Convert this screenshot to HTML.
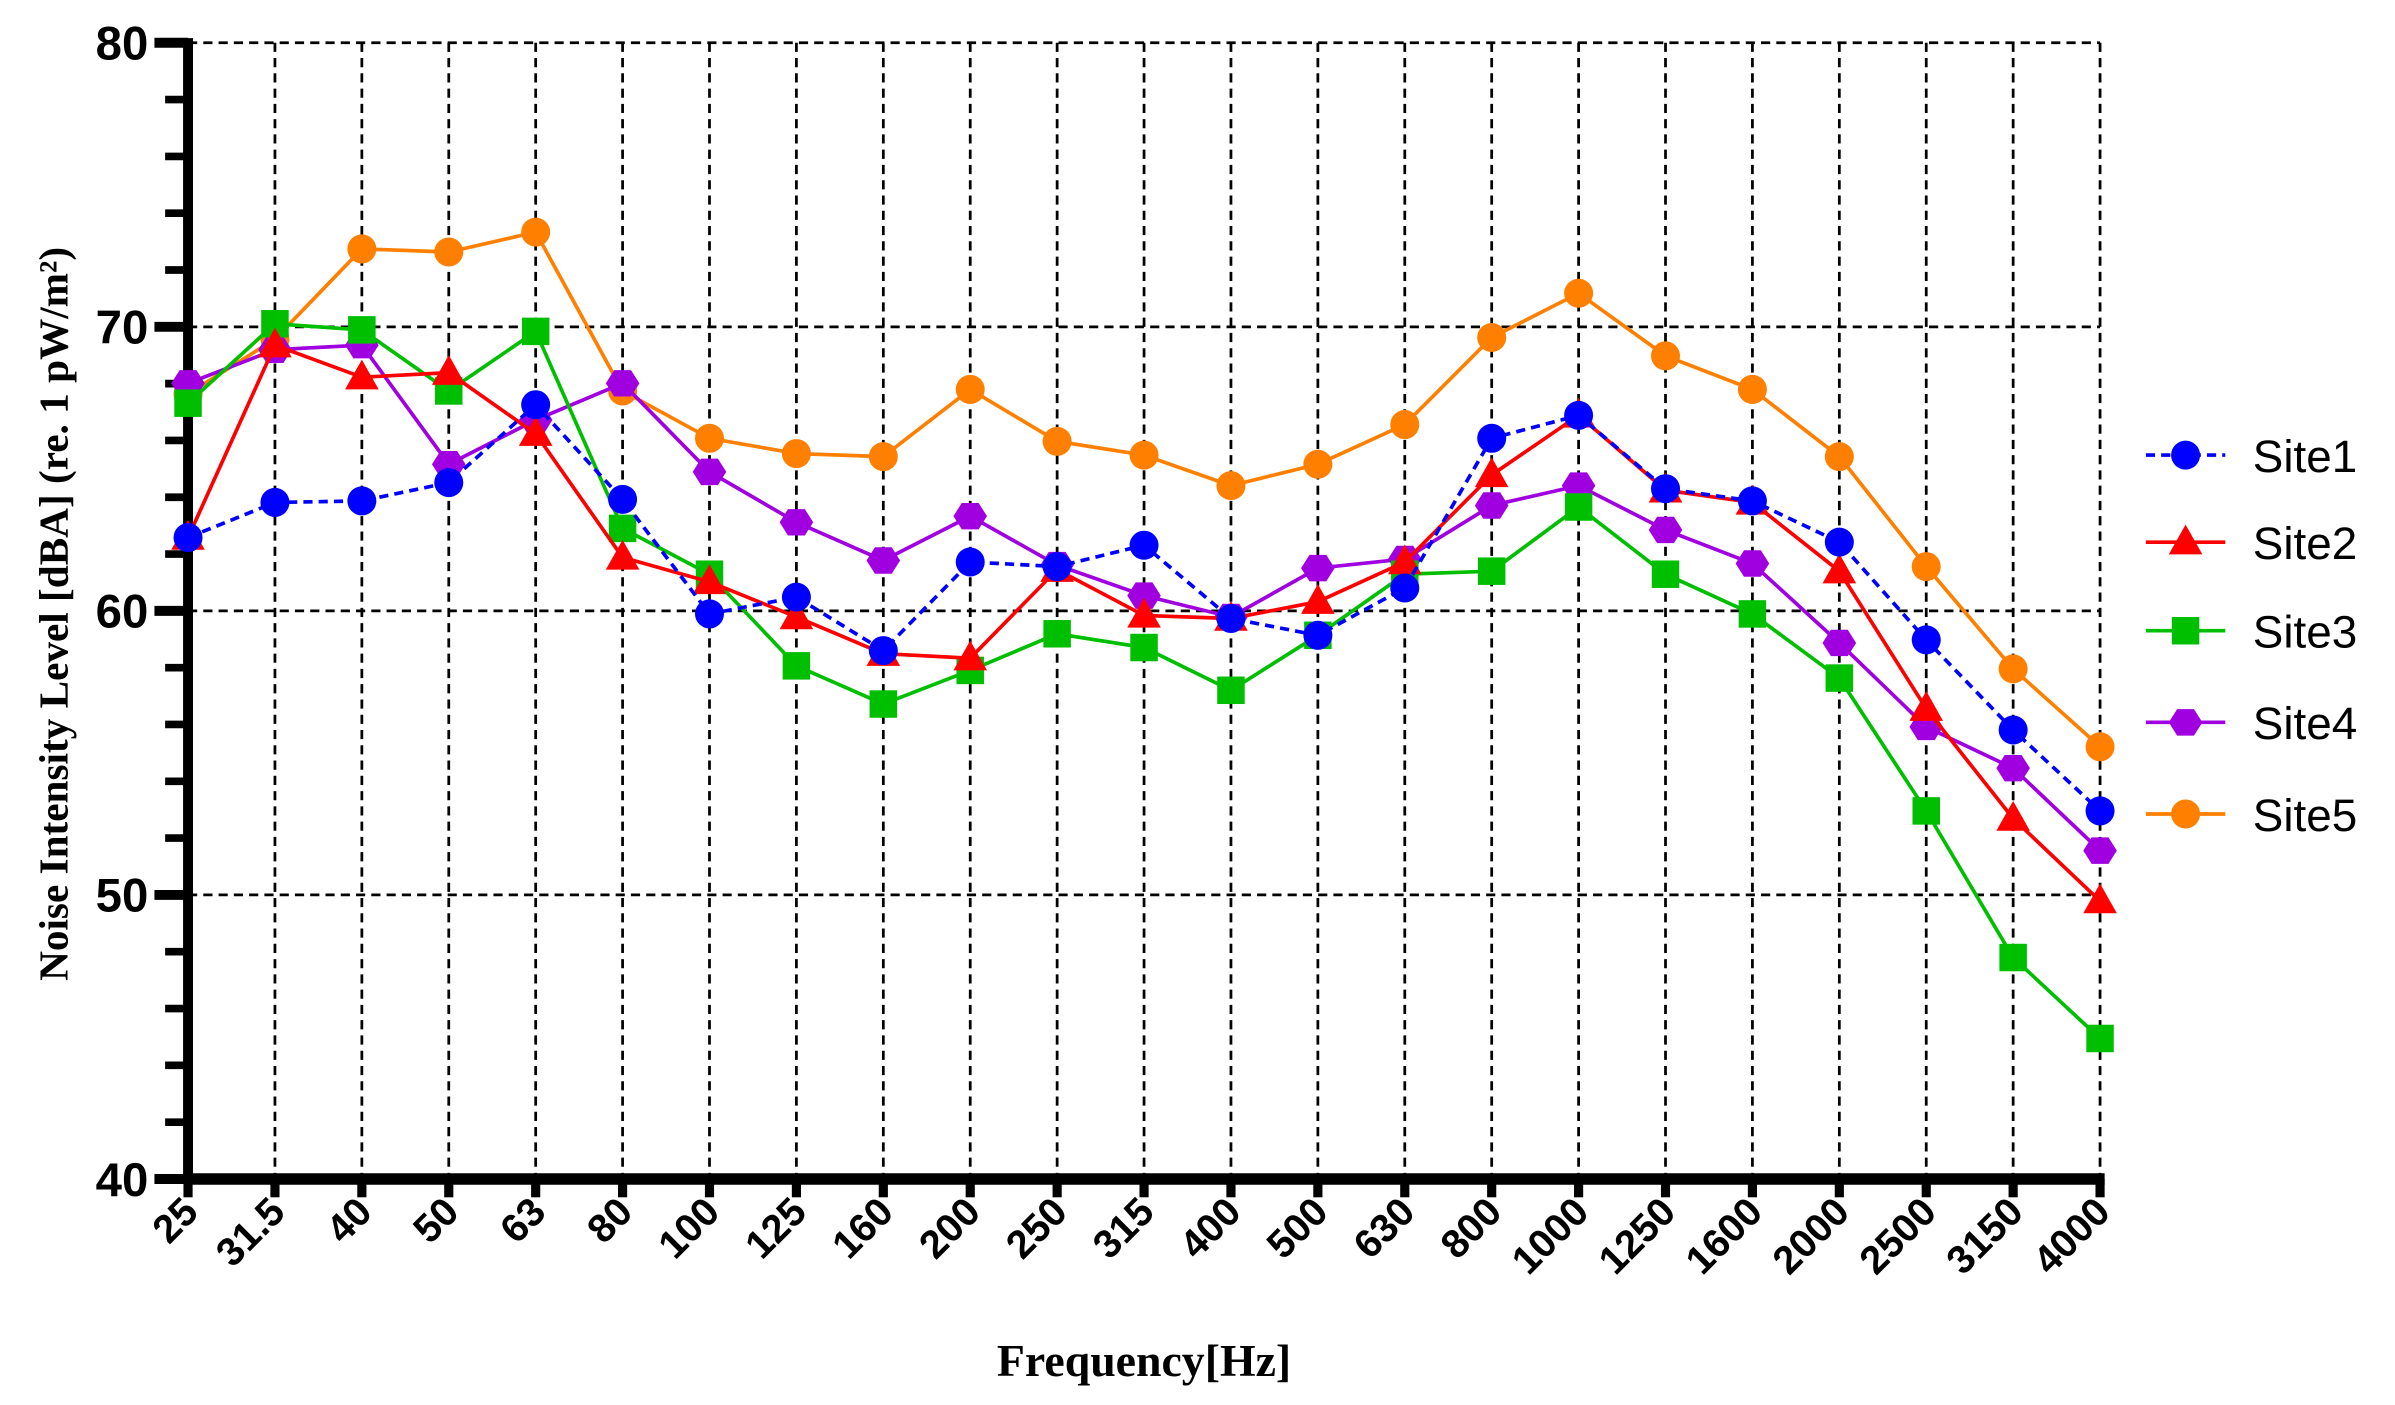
<!DOCTYPE html>
<html><head><meta charset="utf-8"><style>html,body{margin:0;padding:0;background:#fff}svg{display:block}</style></head>
<body>
<svg id="s" width="2395" height="1405" viewBox="0 0 1568 920" xmlns="http://www.w3.org/2000/svg">
<rect width="1568" height="920" fill="#fff"/>
<g id="grid" stroke="#000" stroke-width="1.8" stroke-dasharray="6,4" fill="none"></g>
<g id="axes"></g>
<g id="series"></g>
<g id="labels" font-family="Liberation Sans, Arial, sans-serif" font-weight="bold" fill="#000"></g>
<text x="44" y="402" transform="rotate(-90 44 402)" text-anchor="middle" font-family="Liberation Serif, serif" font-weight="bold" font-size="27">Noise Intensity Level  [dBA] (re. 1 pW/m²)</text>
<text x="749" y="901" text-anchor="middle" font-family="Liberation Serif, serif" font-weight="bold" font-size="30">Frequency[Hz]</text>
<g id="legend" font-family="Liberation Sans, Arial, sans-serif" font-size="30"></g>
</svg>
<script>
const NS="http://www.w3.org/2000/svg";
function el(p,t,a,txt){const e=document.createElementNS(NS,t);for(const k in a)e.setAttribute(k,a[k]);if(txt!==undefined)e.textContent=txt;p.appendChild(e);return e;}
const cats=["25","31.5","40","50","63","80","100","125","160","200","250","315","400","500","630","800","1000","1250","1600","2000","2500","3150","4000"];
const X0=123,X1=1375,Y0=28,Y1=772;
const dx=(X1-X0)/22;
const xi=i=>X0+i*dx;
const yv=v=>Y1-(v-40)*(Y1-Y0)/40;
const grid=document.getElementById('grid'),axes=document.getElementById('axes'),lab=document.getElementById('labels');
for(let i=1;i<=22;i++)el(grid,'line',{x1:xi(i),y1:Y0,x2:xi(i),y2:Y1});
for(const v of [50,60,70,80])el(grid,'line',{x1:X0,y1:yv(v),x2:X1,y2:yv(v)});
el(axes,'line',{x1:X0,y1:Y0-3,x2:X0,y2:Y1+3,stroke:'#000','stroke-width':6.5});
el(axes,'line',{x1:X0-3,y1:Y1,x2:X1+3,y2:Y1,stroke:'#000','stroke-width':7.5});
for(let v=40;v<=80;v+=2){const major=v%10==0;el(axes,'line',{x1:major?101:108,y1:yv(v),x2:X0,y2:yv(v),stroke:'#000','stroke-width':major?6.5:5});}
for(let i=0;i<=22;i++)el(axes,'line',{x1:xi(i),y1:Y1,x2:xi(i),y2:784,stroke:'#000','stroke-width':6});
for(const v of [40,50,60,70,80])el(lab,'text',{x:97,y:yv(v)+11,'text-anchor':'end','font-size':31},String(v));
cats.forEach((c,i)=>{const x=xi(i)+8,y=795;el(lab,'text',{x:x,y:y,'text-anchor':'end','font-size':26,transform:`rotate(-45 ${x} ${y})`},c);});
const D={
s1:[352,329,328,316,265,327,402,391,426,368,371,357,405,416,385,287,272,320,328,355,419,478,531],
s2:[352,226,247,244,284,365,381,404,428,431,373,403,405,394,368,311,272,321,329,374,464,536,590],
s3:[264,212,216,256,217,346,376,436,461,439,415,424,452,416,376,374,332,376,402,444,531,627,680],
s4:[251,229,226,304,275,251,309,342,367,338,370,390,404,372,366,331,318,347,369,421,476,503,557],
s5:[258,222,163,165,152,256,287,297,299,255,289,298,318,304,278,221,192,233,255,299,371,438,489]};
const S={s1:{c:'#0000ff',m:'circle',dash:'6,4',name:'Site1'},s2:{c:'#ff0000',m:'tri',name:'Site2'},s3:{c:'#00bf00',m:'sq',name:'Site3'},s4:{c:'#a000e0',m:'hex',name:'Site4'},s5:{c:'#ff8000',m:'circle',name:'Site5'}};
function marker(p,m,x,y,c){
 if(m=='circle')el(p,'circle',{cx:x,cy:y,r:9.5,fill:c});
 else if(m=='sq')el(p,'rect',{x:x-9,y:y-9,width:18,height:18,fill:c});
 else if(m=='tri')el(p,'polygon',{points:`${x},${y-11.5} ${x+11},${y+8} ${x-11},${y+8}`,fill:c});
 else if(m=='hex'){let pts=[];for(let k=0;k<6;k++){const a=Math.PI/3*k;pts.push((x+11*Math.cos(a))+','+(y+10*Math.sin(a)));}el(p,'polygon',{points:pts.join(' '),fill:c});}
}
const ser=document.getElementById('series');
for(const k of ['s5','s4','s3','s2','s1']){
 const s=S[k],g=el(ser,'g',{});
 const pts=D[k].map((y,i)=>xi(i)+','+y).join(' ');
 const a={points:pts,fill:'none',stroke:s.c,'stroke-width':2.4};if(s.dash)a['stroke-dasharray']=s.dash;
 el(g,'polyline',a);
 D[k].forEach((y,i)=>marker(g,s.m,xi(i),y,s.c));
}
const lg=document.getElementById('legend');
const ly=[298,355,413,473,533];
['s1','s2','s3','s4','s5'].forEach((k,j)=>{const s=S[k];const a={x1:1405,y1:ly[j],x2:1457,y2:ly[j],stroke:s.c,'stroke-width':2.4};if(s.dash)a['stroke-dasharray']=s.dash;el(lg,'line',a);marker(lg,s.m,1431,ly[j],s.c);el(lg,'text',{x:1475,y:ly[j]+11},s.name);});
</script>
</body></html>
